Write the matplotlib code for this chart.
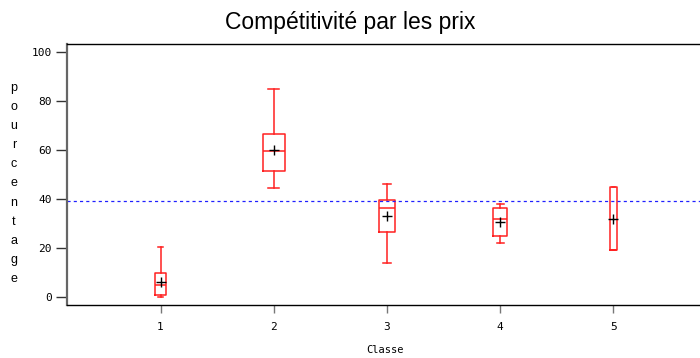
import matplotlib
matplotlib.use("Agg")
import matplotlib.pyplot as plt

# box statistics (pourcentage per classe)
classes = [1, 2, 3, 4, 5]
whislo = [0.0, 44.6, 14.1, 22.2, 19.3]
q1 = [0.8, 51.3, 26.6, 25.1, 19.3]
med = [4.9, 59.7, 36.5, 32.0, 19.3]
q3 = [10.0, 66.4, 39.7, 36.5, 45.0]
whishi = [20.4, 84.7, 46.0, 37.9, 45.0]
means = [6.4, 60.0, 33.1, 30.7, 32.0]
box_widths = [0.10, 0.19, 0.15, 0.12, 0.065]
ref_level = 39.0

stats = []
for i in range(len(classes)):
    stats.append(dict(whislo=whislo[i], q1=q1[i], med=med[i], q3=q3[i],
                      whishi=whishi[i], mean=means[i], fliers=[]))

fig = plt.figure(figsize=(7.0, 3.58), dpi=100)
ax = fig.add_axes([0.0957, 0.1472, 0.9043, 0.7291])

red = "#ff2020"
ax.bxp(stats, positions=classes, widths=box_widths,
       capwidths=[w * 0.5 for w in box_widths],
       showmeans=True, showfliers=False,
       boxprops=dict(color=red, linewidth=1.1),
       whiskerprops=dict(color=red, linewidth=1.1),
       capprops=dict(color=red, linewidth=1.1),
       medianprops=dict(color=red, linewidth=1.1),
       meanprops=dict(marker="+", markeredgecolor="black", markersize=6.5,
                      markeredgewidth=1.0))

ax.axhline(ref_level, color="#2020ff", linestyle=(0, (2.5, 2.5)), linewidth=0.9)

ax.set_xlim(0.174, 5.764)
ax.set_ylim(-3.26, 103.0)
ax.set_xticks(classes)
ax.set_xticklabels([str(c) for c in classes])
ax.set_yticks([0, 20, 40, 60, 80, 100])

ax.spines["right"].set_visible(False)
ax.spines["left"].set_color("#666666")
ax.spines["left"].set_linewidth(1.6)
ax.spines["top"].set_linewidth(1.0)
ax.spines["bottom"].set_linewidth(1.0)

ax.tick_params(axis="y", direction="out", length=8, width=1.0, color="#333333",
               labelsize=8, pad=3)
ax.tick_params(axis="x", direction="out", length=6, width=1.0, color="#777777",
               labelsize=8, pad=6)
for lab in ax.get_xticklabels() + ax.get_yticklabels():
    lab.set_family("DejaVu Sans Mono")

fig.text(0.5, 1 - 22 / 358, "Compétitivité par les prix", ha="center", va="center",
         fontsize=16.5, family="Liberation Sans")
fig.text(385 / 700, 1 - 350 / 358, "Classe", ha="center", va="center",
         fontsize=7.5, family="DejaVu Sans Mono")

# vertical stacked axis label
for k, ch in enumerate("pourcentage"):
    y = 88 + k * 19.1
    fig.text(14 / 700, 1 - y / 358, ch, ha="center", va="center",
             fontsize=9, family="Liberation Sans")

fig.savefig("out.png", dpi=100)
